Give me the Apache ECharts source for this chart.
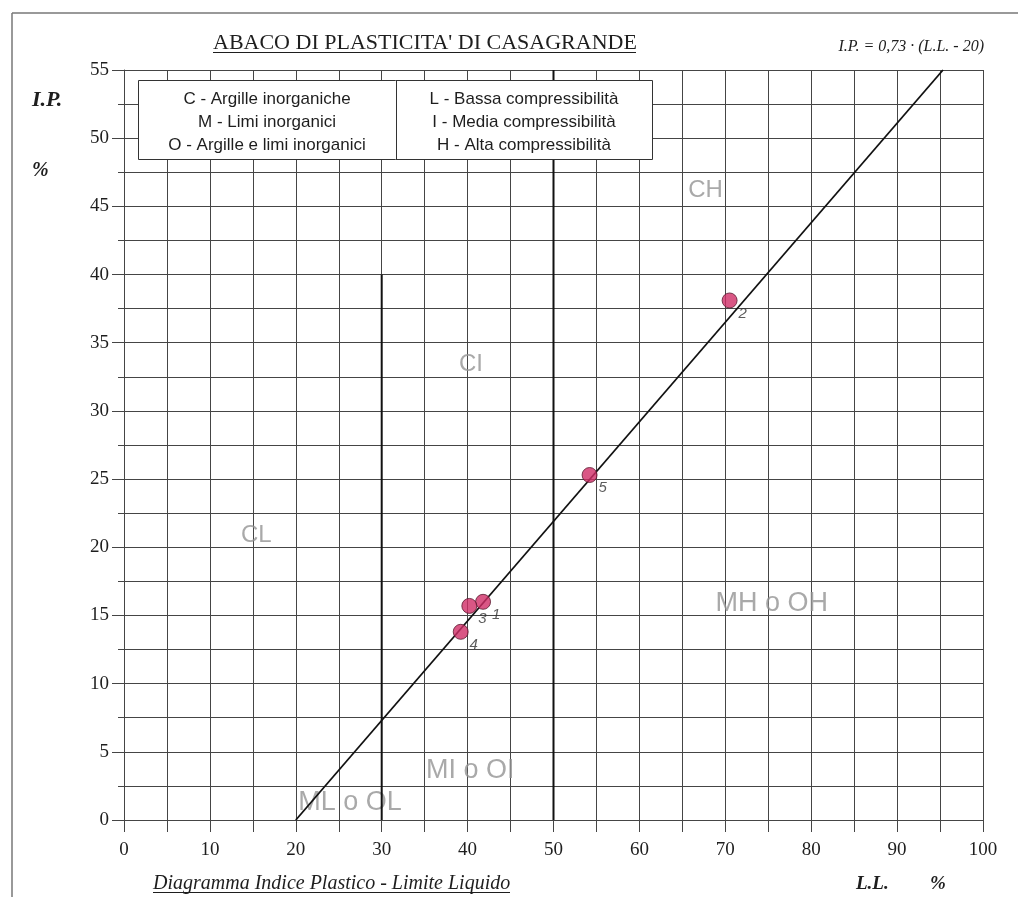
<!DOCTYPE html>
<html>
<head>
<meta charset="utf-8">
<script src="https://cdn.jsdelivr.net/npm/echarts@6/dist/echarts.min.js"></script>
<style>html,body{margin:0;padding:0;background:#fff;}#c{width:1018px;height:897px;}</style>
</head>
<body>
<div id="c"></div>
<script>
// ---- data ----
var samples = [
  [41.8, 16.0, '1'],
  [70.5, 38.1, '2'],
  [40.2, 15.7, '3'],
  [39.2, 13.8, '4'],
  [54.2, 25.3, '5']
];
var aLine = [[20, 0], [95.34, 55]];           // I.P. = 0,73 (L.L. - 20)
var divider30 = [[30, 0], [30, 40]];
var divider50 = [[50, 0], [50, 55]];
var clayZones = [
  [67.7, 46.2, 'CH'],
  [40.4, 33.4, 'CI'],
  [15.4, 20.9, 'CL']
];
var siltZones = [
  [75.4, 15.9, 'MH o OH'],
  [40.3, 3.6, 'MI o OI'],
  [26.3, 1.3, 'ML o OL']
];
var legendLeft = ['C - Argille inorganiche', 'M - Limi inorganici', 'O - Argille e limi inorganici'];
var legendRight = ['L - Bassa compressibilità', 'I - Media compressibilità', 'H - Alta compressibilità'];
var titleText = "ABACO DI PLASTICITA' DI CASAGRANDE";
var formulaText = 'I.P. = 0,73 · (L.L. - 20)';
var subtitleText = 'Diagramma Indice Plastico - Limite Liquido';
var xMin = 0, xMax = 100, xStep = 10;
var yMin = 0, yMax = 55, yStep = 5;

// ---- chart ----
var chart = echarts.init(document.getElementById('c'), null, {renderer: 'canvas'});
var gridCol = '#454545';
var ink = '#1e1e1e';
var serif = '"Liberation Serif", "DejaVu Serif", serif';
var sans = '"Liberation Sans", Arial, sans-serif';

var graphics = [
  // outer frame
  {type: 'line', shape: {x1: 12, y1: 13, x2: 1018, y2: 13}, style: {stroke: '#777', lineWidth: 1.5}, z: 100},
  {type: 'line', shape: {x1: 12, y1: 13, x2: 12, y2: 897}, style: {stroke: '#777', lineWidth: 1.5}, z: 100},
  // title
  {type: 'text', x: 213, y: 43, style: {text: titleText, font: '22px ' + serif, fill: ink, verticalAlign: 'middle'}, z: 100},
  {type: 'line', shape: {x1: 213, y1: 52.5, x2: 636, y2: 52.5}, style: {stroke: ink, lineWidth: 1}, z: 100},
  {type: 'text', x: 984, y: 47, style: {text: formulaText, font: 'italic 16px ' + serif, fill: ink, align: 'right', verticalAlign: 'middle'}, z: 100},
  // axis names
  {type: 'text', x: 32, y: 100, style: {text: 'I.P.', font: 'italic bold 22px ' + serif, fill: ink, verticalAlign: 'middle'}, z: 100},
  {type: 'text', x: 32, y: 171, style: {text: '%', font: 'italic bold 20px ' + serif, fill: ink, verticalAlign: 'middle'}, z: 100},
  {type: 'text', x: 153, y: 884, style: {text: subtitleText, font: 'italic 20px ' + serif, fill: ink, verticalAlign: 'middle'}, z: 100},
  {type: 'line', shape: {x1: 153, y1: 892.5, x2: 510, y2: 892.5}, style: {stroke: ink, lineWidth: 1}, z: 100},
  {type: 'text', x: 856, y: 884, style: {text: 'L.L.', font: 'italic bold 19px ' + serif, fill: ink, verticalAlign: 'middle'}, z: 100},
  {type: 'text', x: 930, y: 884, style: {text: '%', font: 'italic bold 19px ' + serif, fill: ink, verticalAlign: 'middle'}, z: 100},
  // legend box
  {type: 'rect', shape: {x: 138.5, y: 80.5, width: 514, height: 79}, style: {fill: '#fff', stroke: '#333', lineWidth: 1}, z: 90},
  {type: 'line', shape: {x1: 396.5, y1: 80, x2: 396.5, y2: 160}, style: {stroke: '#333', lineWidth: 1}, z: 91}
];
legendLeft.forEach(function (t, i) {
  graphics.push({type: 'text', x: 267, y: 99 + i * 23, style: {text: t, font: '17px ' + sans, fill: ink, align: 'center', verticalAlign: 'middle'}, z: 92});
});
legendRight.forEach(function (t, i) {
  graphics.push({type: 'text', x: 524, y: 99 + i * 23, style: {text: t, font: '17px ' + sans, fill: ink, align: 'center', verticalAlign: 'middle'}, z: 92});
});

var axisCommon = {
  type: 'value',
  axisLine: {show: true, lineStyle: {color: gridCol, width: 1}},
  splitLine: {show: true, lineStyle: {color: gridCol, width: 1}},
  minorSplitLine: {show: true, lineStyle: {color: gridCol, width: 1}}
};

function zoneSeries(data, size) {
  return {
    type: 'scatter', data: data, symbolSize: 0, silent: true, z: 3,
    label: {show: true, position: 'inside', formatter: function (p) { return p.data[2]; },
      fontFamily: sans, fontSize: size, color: '#949494'}
  };
}

chart.setOption({
  animation: false,
  backgroundColor: '#fff',
  grid: {left: 124, right: 35, top: 70, bottom: 77, show: false},
  xAxis: Object.assign({}, axisCommon, {
    min: xMin, max: xMax, interval: xStep,
    axisTick: {show: true, length: 12, lineStyle: {color: gridCol}},
    minorTick: {show: true, splitNumber: 2, length: 12, lineStyle: {color: gridCol}},
    axisLabel: {color: ink, fontFamily: serif, fontSize: 19, margin: 21}
  }),
  yAxis: Object.assign({}, axisCommon, {
    min: yMin, max: yMax, interval: yStep,
    axisTick: {show: true, length: 12, lineStyle: {color: gridCol}},
    minorTick: {show: true, splitNumber: 2, length: 6, lineStyle: {color: gridCol}},
    axisLabel: {color: ink, fontFamily: serif, fontSize: 19, margin: 15}
  }),
  graphic: graphics,
  series: [
    zoneSeries(clayZones, 24),
    zoneSeries(siltZones, 27),
    {type: 'line', data: divider30, symbol: 'none', lineStyle: {color: '#111', width: 2}, z: 4, silent: true},
    {type: 'line', data: divider50, symbol: 'none', lineStyle: {color: '#111', width: 2}, z: 4, silent: true},
    {type: 'line', data: aLine, symbol: 'none', lineStyle: {color: '#111', width: 1.8}, z: 5, silent: true},
    {
      type: 'scatter', data: samples, symbolSize: 15, z: 6,
      itemStyle: {color: '#cf2d66', borderColor: '#5a1a30', borderWidth: 1},
      label: {show: true, position: 'inside', offset: [13, 13], formatter: function (p) { return p.data[2]; },
        fontFamily: sans, fontStyle: 'italic', fontSize: 15, color: '#333'}
    }
  ]
});
</script>
</body>
</html>
